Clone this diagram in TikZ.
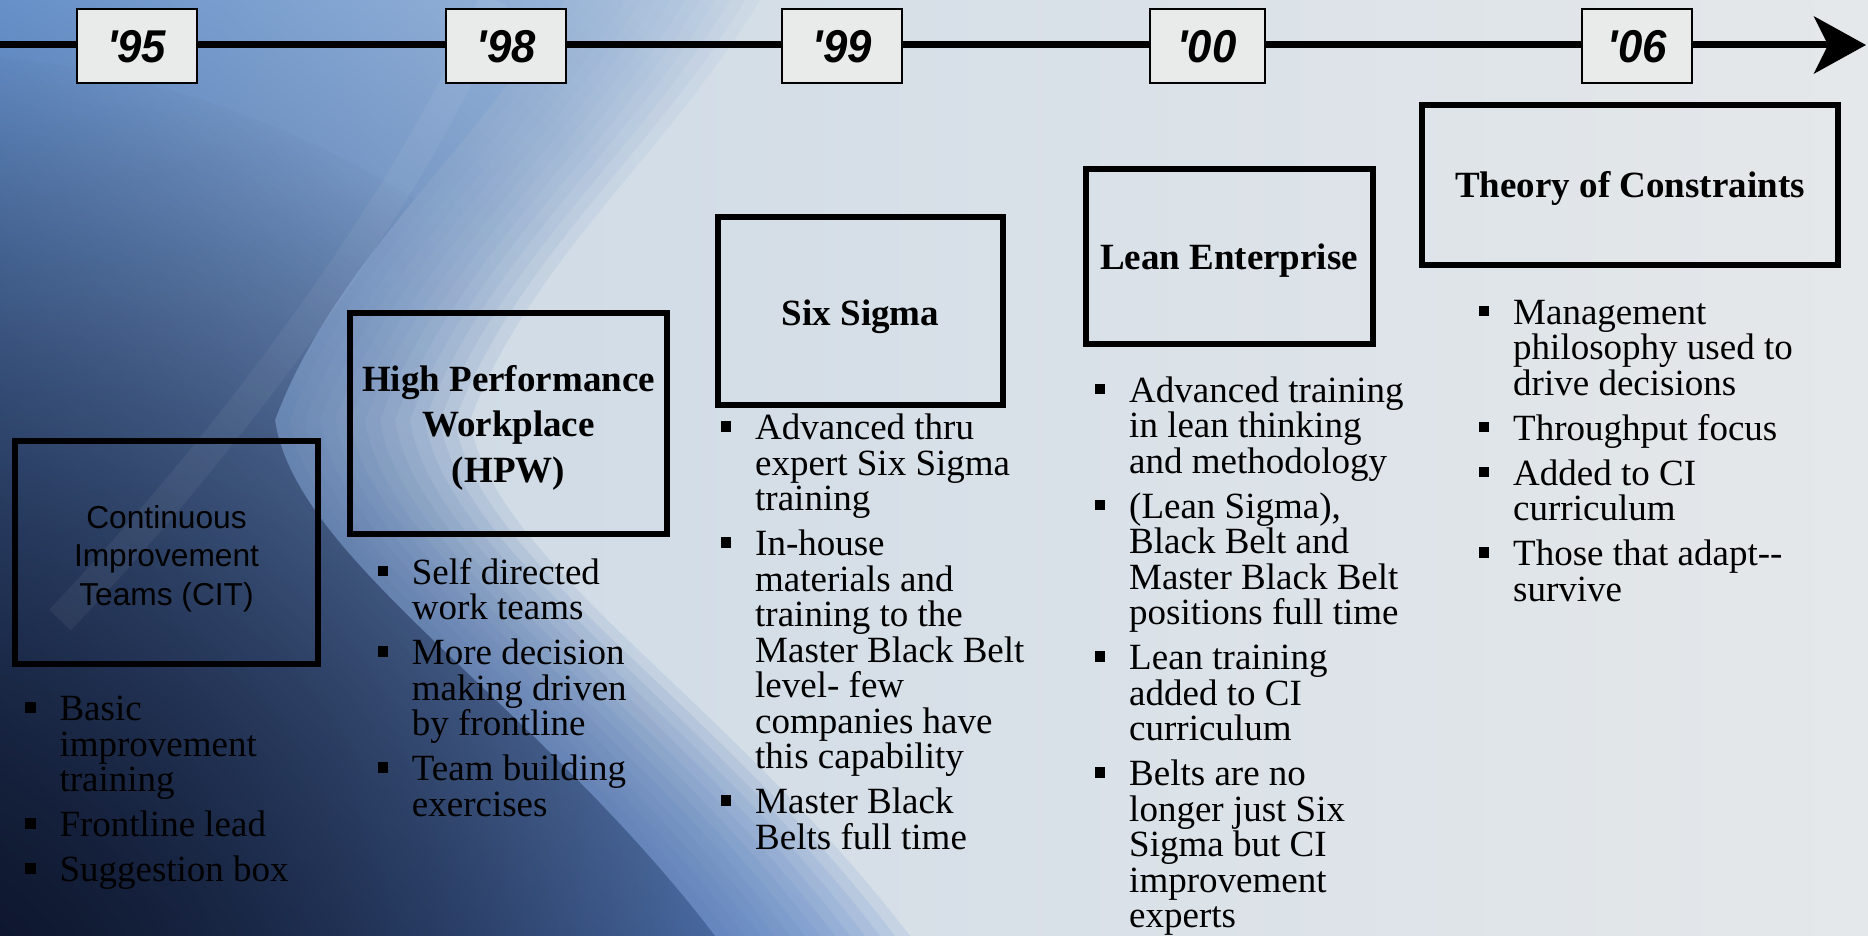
\documentclass[tikz,border=0pt]{standalone}
\usepackage{fontspec}
\setmainfont{Liberation Serif}
\newfontfamily\arialf{Liberation Sans}
\usetikzlibrary{arrows.meta,fadings,shadings}
\definecolor{bgA}{HTML}{C9D7E5}
\definecolor{bgB}{HTML}{E5E8EA}
\definecolor{blUL}{HTML}{6690C8}
\definecolor{blUR}{HTML}{B7CBE2}
\definecolor{blLL}{HTML}{1E3260}
\definecolor{blLR}{HTML}{6894D8}
\definecolor{navyd}{HTML}{0C1326}
\definecolor{yearfill}{HTML}{E9EAEA}
\tikzfading[name=darkfade, inner color=transparent!0, outer color=transparent!100]
\newcommand{\fst}{\rule{0pt}{30pt}}
\newcommand{\bul}{\leavevmode\llap{\raisebox{8pt}{\rule{10.5pt}{10.5pt}}\hspace{23.75pt}}}
\begin{document}
\begin{tikzpicture}[x=1pt,y=-1pt,
  yearbox/.style={draw=black, line width=2pt, fill=yearfill, minimum height=74pt, inner sep=0pt,
    font=\arialf\bfseries\itshape\fontsize{46pt}{46pt}\selectfont},
  mainbox/.style={draw=black, line width=6pt, inner sep=0pt},
  boldtitle/.style={font=\bfseries\fontsize{37pt}{45.5pt}\selectfont, inner sep=0pt, align=center},
  cittitle/.style={font=\arialf\fontsize{31.7pt}{38.5pt}\selectfont, inner sep=0pt, align=center},
  blist/.style={font=\fontsize{37pt}{35.5pt}\selectfont, inner sep=0pt, align=left, anchor=north west},
  blueshade/.style={upper left=blUL, upper right=blUR, lower left=blLL, lower right=blLR},
  tl/.style={line width=7pt, draw=black}]
\useasboundingbox (0,0) rectangle (1868,936);
% background
\shade[left color=bgA, right color=bgB] (0,0) rectangle (1868,936);
\foreach \s in {110,95,80,65,50,35,20,5,-10,-25,-40,-55,-70} {
  \begin{scope}
    \clip[xshift=\s pt] (-200,0) -- (650,0) .. controls (560,150) and (420,260) .. (360,420)
        .. controls (380,560) and (620,700) .. (800,936) -- (-200,936) -- cycle;
    \shade[blueshade, opacity=.14] (0,0) rectangle (950,936);
  \end{scope}
}
\begin{scope}
  \clip[xshift=-85pt] (-200,0) -- (650,0) .. controls (560,150) and (420,260) .. (360,420)
        .. controls (380,560) and (620,700) .. (800,936) -- (-200,936) -- cycle;
  \shade[blueshade] (0,0) rectangle (950,936);
  \fill[navyd, path fading=darkfade] (-100,1040) circle (1000);
\end{scope}
\draw[white, line width=30pt, opacity=.05] (494,0) .. controls (420,180) and (250,420) .. (60,620);

% timeline boxes
\coordinate (tl-start) at (0,45);
\coordinate (tl-end) at (1866,45);
\node[yearbox, minimum width=120pt] (y95) at (136.6,46.3) {\scalebox{0.95}[1]{\textquotesingle95}};
\node[yearbox, minimum width=120pt] (y98) at (506.2,46.3) {\scalebox{0.95}[1]{\textquotesingle98}};
\node[yearbox, minimum width=120pt] (y99) at (842.2,46.3) {\scalebox{0.95}[1]{\textquotesingle99}};
\node[yearbox, minimum width=115pt] (y00) at (1207,46.3) {\scalebox{0.95}[1]{\textquotesingle00}};
\node[yearbox, minimum width=110pt] (y06) at (1637.4,46.3) {\scalebox{0.95}[1]{\textquotesingle06}};
\draw[tl] (tl-start) -- (y95.west |- tl-start);
\draw[tl] (y95.east |- tl-start) -- (y98.west |- tl-start);
\draw[tl] (y98.east |- tl-start) -- (y99.west |- tl-start);
\draw[tl] (y99.east |- tl-start) -- (y00.west |- tl-start);
\draw[tl] (y00.east |- tl-start) -- (y06.west |- tl-start);
\draw[tl, -{Stealth[length=52pt, width=57pt, inset=14pt]}] (y06.east |- tl-start) -- (tl-end);

% main boxes
\node[mainbox, minimum width=303pt, minimum height=223pt] (cit) at (166.5,552.5) {};
\node[mainbox, minimum width=317pt, minimum height=221pt] (hpw) at (508.5,423.5) {};
\node[mainbox, minimum width=285pt, minimum height=188.3pt] (six) at (860.5,310.85) {};
\node[mainbox, minimum width=286.5pt, minimum height=175.3pt] (lean) at (1229.25,256.35) {};
\node[mainbox, minimum width=416pt, minimum height=159.7pt] (toc) at (1630,184.85) {};

% titles
\node[cittitle, anchor=north] (cit-t) at (166.5,498) {\fst Continuous\\Improvement\\Teams (CIT)};
\node[boldtitle, anchor=north] (hpw-t) at (508.5,361) {\fst High Performance\\Workplace\\(HPW)};
\node[boldtitle, anchor=base] (six-t) at (860.5,325) {Six Sigma};
\node[boldtitle, anchor=base] (lean-t) at (1229,269) {Lean Enterprise};
\node[boldtitle, anchor=base] (toc-t) at (1630,197) {Theory of Constraints};

% bullet lists
\node[blist] (cit-l) at (59.3,690.5) {\fst\bul Basic\\improvement\\training\\[9.5pt]\bul Frontline lead\\[9.5pt]\bul Suggestion box};
\node[blist] (hpw-l) at (411.7,554) {\fst\bul Self directed\\work teams\\[9.5pt]\bul More decision\\making driven\\by frontline\\[9.5pt]\bul Team building\\exercises};
\node[blist] (six-l) at (755,409.5) {\fst\bul Advanced thru\\expert Six Sigma\\training\\[9.5pt]\bul In-house\\materials and\\training to the\\Master Black Belt\\level- few\\companies have\\this capability\\[9.5pt]\bul Master Black\\Belts full time};
\node[blist] (lean-l) at (1129,372) {\fst\bul Advanced training\\in lean thinking\\and methodology\\[9.5pt]\bul (Lean Sigma),\\Black Belt and\\Master Black Belt\\positions full time\\[9.5pt]\bul Lean training\\added to CI\\curriculum\\[9.5pt]\bul Belts are no\\longer just Six\\Sigma but CI\\improvement\\experts};
\node[blist] (toc-l) at (1513,294) {\fst\bul Management\\philosophy used to\\drive decisions\\[9.5pt]\bul Throughput focus\\[9.5pt]\bul Added to CI\\curriculum\\[9.5pt]\bul Those that adapt-{}-\\survive};
\end{tikzpicture}
\end{document}
